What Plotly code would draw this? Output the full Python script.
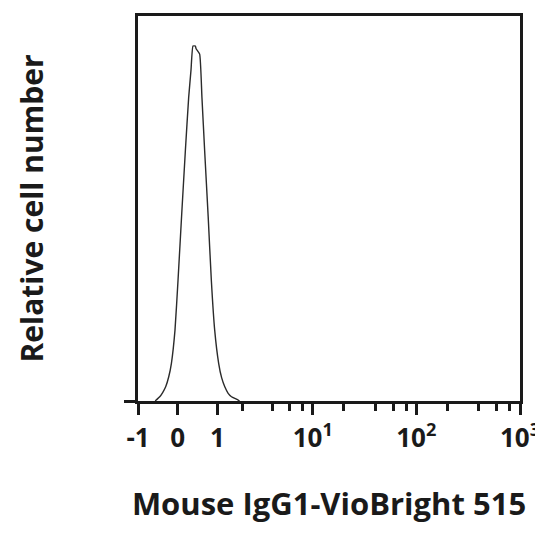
import numpy as np
import plotly.graph_objects as go

# Data: fluorescence intensity (linear units) and relative cell number (%)
fluorescence = [-0.52, -0.49, -0.41, -0.34, -0.27, -0.20, -0.14, -0.06, 0.007, 0.09,
                0.171, 0.246, 0.30, 0.346, 0.402, 0.42, 0.507, 0.565, 0.635, 0.73,
                0.819, 0.917, 1.04, 1.14, 1.247, 1.37, 1.50, 1.73, 1.85]
rel_count = [0.0, 0.3, 1.1, 2.2, 3.7, 6.3, 9.8, 18.4, 31.3, 48.7,
             65.0, 78.8, 86.0, 92.2, 92.2, 91.5, 90.1, 78.8, 65.0, 47.9,
             31.3, 18.4, 9.8, 6.0, 3.7, 2.0, 1.1, 0.4, 0.0]

major_ticks = [-1, 0, 1, 10, 100, 1000]
major_labels = ["-1", "0", "1", "10<sup>1</sup>", "10<sup>2</sup>", "10<sup>3</sup>"]
minor_ticks = [2, 4, 6, 8, 20, 40, 60, 80, 200, 400, 600, 800]

x_title = "Mouse IgG1-VioBright 515"
y_title = "Relative cell number"


def biex(v):
    # biexponential-like display transform (arcsinh)
    return np.arcsinh(np.asarray(v, dtype=float))


FONT = "Open Sans"
INK = "#1a1a1a"

fig = go.Figure()
fig.add_trace(go.Scatter(
    x=biex(fluorescence), y=rel_count, mode="lines",
    line=dict(color="#2b2b2b", width=1.4, shape="spline", smoothing=0.4),
    hoverinfo="skip", showlegend=False,
))

fig.update_layout(
    width=535, height=526,
    margin=dict(l=130, r=23, t=8, b=133),
    paper_bgcolor="white", plot_bgcolor="white",
    font=dict(family=FONT, color=INK),
    xaxis=dict(
        range=[float(biex(-1)), float(biex(1000))],
        automargin=False,
        tickmode="array", tickvals=biex(major_ticks).tolist(), ticktext=major_labels,
        ticks="outside", ticklen=11, tickwidth=2.6, tickcolor=INK,
        ticklabelstandoff=1, ticklabeloverflow="allow",
        minor=dict(tickmode="array", tickvals=biex(minor_ticks).tolist(),
                   ticks="outside", ticklen=7, tickwidth=2.6, tickcolor=INK),
        showline=True, linecolor=INK, linewidth=2.8, mirror=True,
        showgrid=False, zeroline=False,
        tickfont=dict(family=FONT, size=26, color=INK, weight="bold"),
        title=dict(text=x_title, standoff=40,
                   font=dict(family=FONT, size=31, color=INK, weight="bold")),
    ),
    yaxis=dict(
        range=[0, 100],
        automargin=False,
        tickmode="array", tickvals=[0], ticktext=[""],
        ticks="outside", ticklen=11, tickwidth=2.6, tickcolor=INK,
        showline=True, linecolor=INK, linewidth=2.8, mirror=True,
        showgrid=False, zeroline=False,
        title=dict(text=y_title, standoff=70,
                   font=dict(family=FONT, size=30, color=INK, weight="bold")),
    ),
)

fig.write_html("out.html")
